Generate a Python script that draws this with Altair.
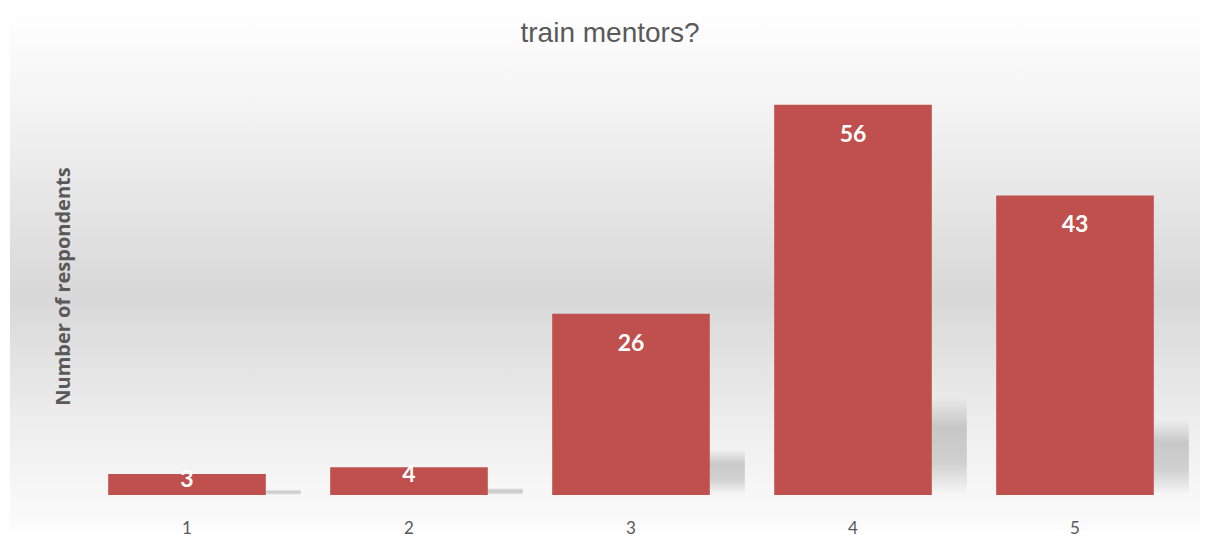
import altair as alt
import pandas as pd

categories = ["1", "2", "3", "4", "5"]
counts = [3, 4, 26, 56, 43]

df = pd.DataFrame({"rating": categories, "count": counts})

W, H = 1110, 418
PL, PT = 76, 77

bg = alt.Chart(pd.DataFrame({"a": [0]})).mark_rect(
    clip=False,
    color={
        "gradient": "linear",
        "x1": 0, "y1": 0, "x2": 0, "y2": 1,
        "stops": [
            {"offset": 0.0, "color": "#ffffff"},
            {"offset": 0.2, "color": "#f3f3f3"},
            {"offset": 0.55, "color": "#d8d8d8"},
            {"offset": 0.8, "color": "#eeeeee"},
            {"offset": 1.0, "color": "#fcfcfc"},
        ],
    },
).encode(
    x=alt.value(10 - PL), x2=alt.value(1200 - PL),
    y=alt.value(8 - PT), y2=alt.value(530 - PT),
)

xenc = alt.X("rating:N", sort=categories,
             scale=alt.Scale(paddingInner=0.29, paddingOuter=0.145),
             axis=alt.Axis(title=None, labelAngle=0, domain=False, ticks=False,
                           labelFont="Lato", labelFontSize=17,
                           labelColor="#595959", labelPadding=25, zindex=2))

base = alt.Chart(df).encode(x=xenc)

yscale = alt.Scale(domain=[0, 60], nice=False)
yaxis = alt.Axis(title="Number of respondents", labels=False, ticks=False,
                 domain=False, grid=False, zindex=2,
                 titleFont="Open Sans", titleFontWeight="bold",
                 titleFontSize=20, titleColor="#595959", titlePadding=3)

shadow = base.transform_calculate(
    sh="datum.count * 0.25"
).mark_bar(
    xOffset=35,
    color={
        "gradient": "linear",
        "x1": 0, "y1": 0, "x2": 0, "y2": 1,
        "stops": [
            {"offset": 0.0, "color": "rgba(140,140,140,0)"},
            {"offset": 0.3, "color": "rgba(140,140,140,0.4)"},
            {"offset": 0.65, "color": "rgba(140,140,140,0.35)"},
            {"offset": 1.0, "color": "rgba(140,140,140,0)"},
        ],
    },
).encode(
    y=alt.Y("sh:Q", scale=yscale, axis=yaxis),
)

bars = base.mark_bar(color="#C0504D").encode(
    y=alt.Y("count:Q", scale=yscale, axis=yaxis),
)

labels = base.transform_calculate(
    pos="max(datum.count - 4.3, datum.count * 0.7)"
).mark_text(color="white", font="Lato", fontWeight="bold", fontSize=23,
            baseline="middle").encode(
    y=alt.Y("pos:Q", scale=yscale, axis=yaxis),
    text=alt.Text("count:Q"),
)

chart = alt.layer(bg, shadow, bars, labels).properties(
    width=W, height=H,
    title=alt.TitleParams("train mentors?", font="Liberation Sans",
                          fontSize=28, fontWeight="normal", color="#595959",
                          anchor="middle", offset=-40, dx=-21, zindex=2),
    autosize=alt.AutoSizeParams(type="none"),
    padding={"left": PL, "top": PT, "right": 1208 - PL - W, "bottom": 536 - PT - H},
).configure_view(stroke=None).configure(background="white")

chart.save("out.html", embed_options={"renderer": "svg", "actions": False})
